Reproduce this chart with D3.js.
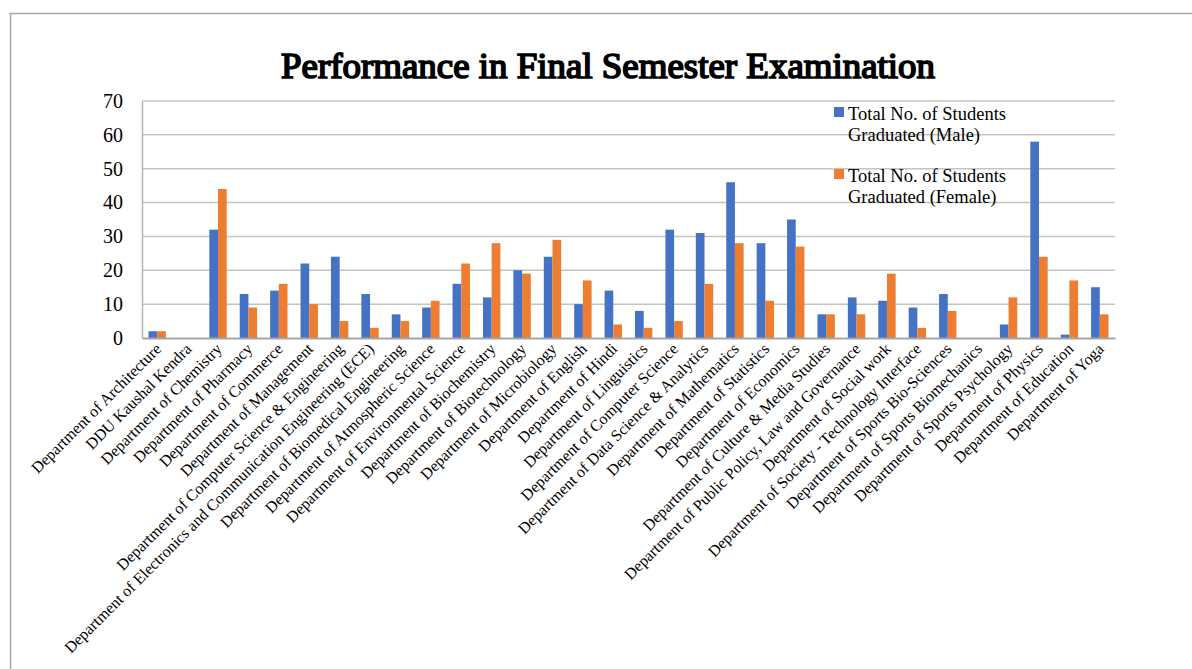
<!DOCTYPE html>
<html>
<head>
<meta charset="utf-8">
<script src="https://cdn.jsdelivr.net/npm/d3@7"></script>
<style>
  html, body { margin: 0; padding: 0; background: #fff; }
</style>
</head>
<body>
<svg id="chart" width="1192" height="669"></svg>
<script>
// Departments along the x axis
const categories = [
  "Department of Architecture",
  "DDU Kaushal Kendra",
  "Department of Chemistry",
  "Department of Pharmacy",
  "Department of Commerce",
  "Department of Management",
  "Department of Computer Science & Engineering",
  "Department of Electronics and Communication Engineering (ECE)",
  "Department of Biomedical Engineering",
  "Department of Atmospheric Science",
  "Department of Environmental Science",
  "Department of Biochemistry",
  "Department of Biotechnology",
  "Department of Microbiology",
  "Department of English",
  "Department of Hindi",
  "Department of Linguistics",
  "Department of Computer Science",
  "Department of Data Science & Analytics",
  "Department of Mathematics",
  "Department of Statistics",
  "Department of Economics",
  "Department of Culture & Media Studies",
  "Department of Public Policy, Law and Governance",
  "Department of Social work",
  "Department of Society - Technology Interface",
  "Department of Sports Bio-Sciences",
  "Department of Sports Biomechanics",
  "Department of Sports Psychology",
  "Department of Physics",
  "Department of Education",
  "Department of Yoga"
];

// Graduates per department
const maleValues = [2, 0, 32, 13, 14, 22, 24, 13, 7, 9, 16, 12, 20, 24, 10, 14, 8, 32, 31, 46, 28, 35, 7, 12, 11, 9, 13, 0, 4, 58, 1, 15];
const femaleValues = [2, 0, 44, 9, 16, 10, 5, 3, 5, 11, 22, 28, 19, 29, 17, 4, 3, 5, 16, 28, 11, 27, 7, 7, 19, 3, 8, 0, 12, 24, 17, 7];

const seriesNames = ["Total No. of Students Graduated (Male)", "Total No. of Students Graduated (Female)"];
const legendLines = [["Total No. of Students", "Graduated (Male)"], ["Total No. of Students", "Graduated (Female)"]];
const seriesColors = ["#4472C4", "#ED7D31"];
const yTicks = [0, 10, 20, 30, 40, 50, 60, 70];
const chartTitle = "Performance in Final Semester Examination";

const FONT = "Liberation Serif";

const svg = d3.select("#chart").attr("font-family", FONT);

// Outer frame (top and left edges)
svg.append("path")
  .attr("d", "M10.5,669 L10.5,13.5 L1192,13.5")
  .attr("fill", "none")
  .attr("stroke", "#a6a6a6")
  .attr("stroke-width", 1.5);

const plot = { left: 142, right: 1115, top: 101, bottom: 338 };

const x = d3.scaleBand()
  .domain(categories)
  .range([plot.left, plot.right])
  .paddingInner(1.5 / 3.5)
  .paddingOuter(0.75 / 3.5);

const xs = d3.scaleBand()
  .domain(seriesNames)
  .range([0, x.bandwidth()]);

const y = d3.scaleLinear()
  .domain([0, 70])
  .range([plot.bottom, plot.top]);

// Horizontal gridlines
svg.append("g")
  .selectAll("line")
  .data(yTicks.filter(t => t > 0))
  .join("line")
  .attr("x1", plot.left)
  .attr("x2", plot.right)
  .attr("y1", d => y(d))
  .attr("y2", d => y(d))
  .attr("stroke", "#c4c4c4")
  .attr("stroke-width", 1.5);

// Y axis with tick labels
const yAxis = svg.append("g")
  .attr("transform", `translate(${plot.left},0)`)
  .call(d3.axisLeft(y).tickValues(yTicks).tickSize(0).tickPadding(19));
yAxis.attr("font-family", FONT);
yAxis.select(".domain").attr("stroke", "#b4b4b4").attr("stroke-width", 1.5);
yAxis.selectAll("text")
  .attr("font-family", FONT)
  .attr("font-size", 20)
  .attr("fill", "#000");

// Bars
const groups = svg.append("g")
  .selectAll("g")
  .data(categories.map((c, i) => ({ cat: c, vals: [maleValues[i], femaleValues[i]] })))
  .join("g")
  .attr("transform", d => `translate(${x(d.cat)},0)`);

groups.selectAll("rect")
  .data(d => d.vals.map((v, j) => ({ name: seriesNames[j], v, j })))
  .join("rect")
  .attr("x", d => xs(d.name))
  .attr("width", xs.bandwidth())
  .attr("y", d => y(d.v))
  .attr("height", d => y(0) - y(d.v))
  .attr("fill", d => seriesColors[d.j]);

// X axis with rotated department labels
const xAxis = svg.append("g")
  .attr("transform", `translate(0,${plot.bottom})`)
  .call(d3.axisBottom(x).tickSize(0).tickPadding(0));
xAxis.attr("font-family", FONT);
xAxis.select(".domain").attr("stroke", "#a6a6a6").attr("stroke-width", 2);
xAxis.selectAll(".tick text")
  .attr("font-family", FONT)
  .attr("font-size", 16)
  .attr("fill", "#000")
  .attr("text-anchor", "end")
  .attr("dy", "0.35em")
  .attr("x", 0)
  .attr("y", 0)
  .attr("transform", "translate(1,8) rotate(-45)");

// Title: regular serif face thickened with a matching stroke
svg.append("text")
  .attr("x", 608)
  .attr("y", 78)
  .attr("text-anchor", "middle")
  .attr("font-family", FONT)
  .attr("font-size", 36)
  .attr("fill", "#000")
  .attr("stroke", "#000")
  .attr("stroke-width", 1.7)
  .attr("textLength", 654)
  .attr("lengthAdjust", "spacingAndGlyphs")
  .text(chartTitle);

// Legend
const legend = svg.append("g").attr("font-family", FONT);
const legendTops = [107, 169];
legendLines.forEach((lines, i) => {
  legend.append("rect")
    .attr("x", 834)
    .attr("y", legendTops[i])
    .attr("width", 10)
    .attr("height", 10)
    .attr("fill", seriesColors[i]);
  const t = legend.append("text")
    .attr("x", 848)
    .attr("y", legendTops[i] + 13)
    .attr("font-family", FONT)
    .attr("font-size", 18.5)
    .attr("fill", "#000");
  lines.forEach((ln, k) => {
    t.append("tspan")
      .attr("x", 848)
      .attr("dy", k === 0 ? 0 : 20.5)
      .text(ln);
  });
});
</script>
</body>
</html>
